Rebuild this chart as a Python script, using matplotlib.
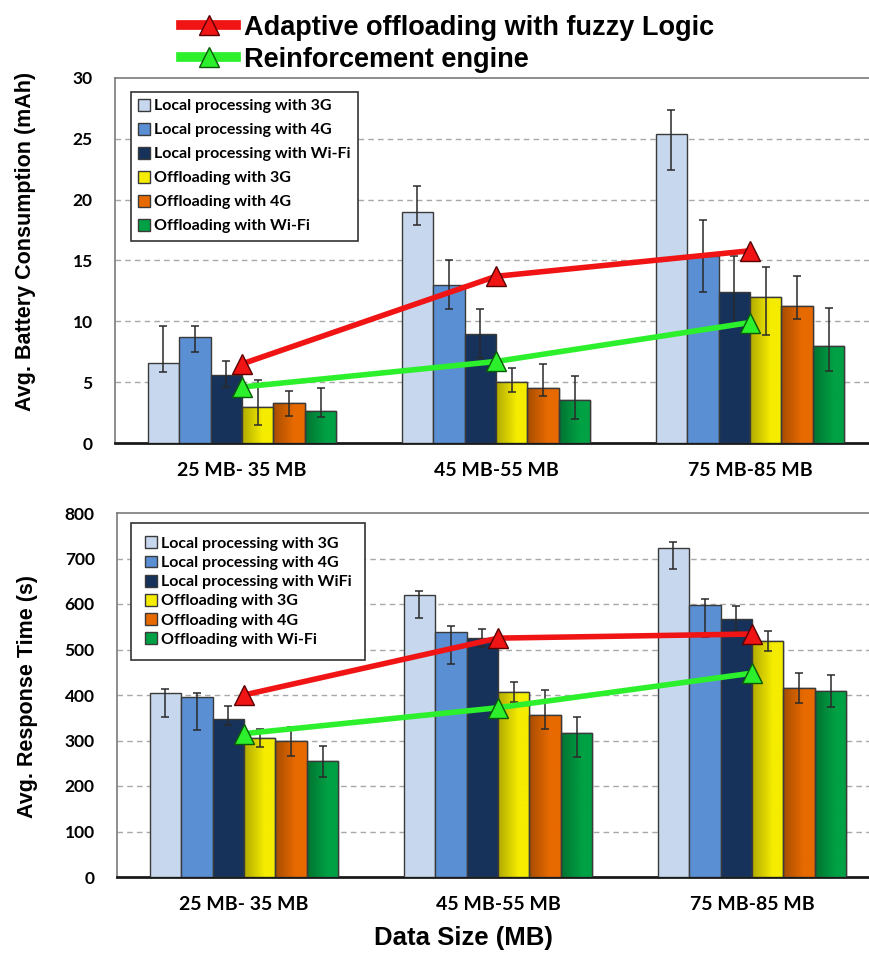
import numpy as np
import matplotlib
matplotlib.use("Agg")
import matplotlib.pyplot as plt
from matplotlib.patches import Patch
from matplotlib.lines import Line2D
from matplotlib.colors import to_rgb

groups = ["25 MB- 35 MB", "45 MB-55 MB", "75 MB-85 MB"]
series_top = ["Local processing with 3G", "Local processing with 4G", "Local processing with Wi-Fi",
              "Offloading with 3G", "Offloading with 4G", "Offloading with Wi-Fi"]
series_bot = ["Local processing with 3G", "Local processing with 4G", "Local processing with WiFi",
              "Offloading with 3G", "Offloading with 4G", "Offloading with Wi-Fi"]

# Battery consumption (mAh): value, lower bound, upper bound of error bar
batt_val = [[6.6, 19.0, 25.4], [8.7, 13.0, 15.4], [5.6, 9.0, 12.4],
            [3.0, 5.0, 12.0], [3.3, 4.5, 11.3], [2.6, 3.5, 8.0]]
batt_lo = [[5.8, 17.9, 22.4], [7.5, 11.0, 12.4], [4.6, 7.0, 9.5],
           [1.5, 4.2, 8.9], [2.2, 3.9, 10.2], [2.1, 2.0, 5.9]]
batt_hi = [[9.6, 21.1, 27.4], [9.6, 15.0, 18.3], [6.7, 11.0, 15.4],
           [5.2, 6.2, 14.5], [4.3, 6.5, 13.7], [4.5, 5.5, 11.1]]
fuzzy_batt = [6.5, 13.7, 15.8]
rl_batt = [4.6, 6.7, 9.9]

# Response time (s)
resp_val = [[405, 619, 724], [396, 538, 597], [348, 525, 567],
            [306, 407, 519], [298, 357, 416], [254, 317, 409]]
resp_lo = [[352, 569, 678], [324, 468, 527], [335, 505, 540],
           [285, 385, 497], [265, 326, 383], [219, 263, 374]]
resp_hi = [[413, 628, 737], [405, 551, 611], [376, 545, 595],
           [326, 429, 540], [330, 411, 449], [287, 352, 444]]
fuzzy_resp = [400, 525, 534]
rl_resp = [315, 372, 448]

colors = ["#c6d7ee", "#5a8fd4", "#17325a", "#f5ec00", "#e76a00", "#00a044"]
gradient = [False, False, False, True, True, True]
red = "#f01414"
lime = "#2cf02c"

FONT = "Liberation Sans"
LEGFONT = "Lato"

fig = plt.figure(figsize=(8.7, 9.55), dpi=100)
W, H = 870, 955

def ax_rect(x0, y0, x1, y1):
    return [x0 / W, 1 - y1 / H, (x1 - x0) / W, (y1 - y0) / H]

ax1 = fig.add_axes(ax_rect(115, 78, 877, 443))
ax2 = fig.add_axes(ax_rect(117, 513, 879, 877))

bw = 0.124
x = np.arange(len(groups))

def draw(ax, vals, los, his, fz, rl, ymax, ystep, ylabel, ylab_y, labels, leg_anchor, lspace, bpad):
    handles = []
    for i in range(6):
        pos = x + (i - 2.5) * bw
        v = np.array(vals[i], float)
        yerr = [v - np.array(los[i]), np.array(his[i]) - v]
        bars = ax.bar(pos, v, bw, color=colors[i], edgecolor="#3a3a3a", linewidth=1.0, zorder=3)
        if gradient[i]:
            c = np.array(to_rgb(colors[i]))
            t = np.linspace(0, 1, 64)
            f = np.clip(0.72 + 0.28 * t / 0.65, 0, 1)
            img = (c[None, :] * f[:, None])[None, :, :]
            for b in bars:
                bx, by = b.get_x(), b.get_y()
                im = ax.imshow(img, extent=[bx, bx + b.get_width(), by, by + b.get_height()],
                               aspect="auto", zorder=3.1, origin="lower")
                im.set_clip_path(b)
            for b in bars:
                ax.add_patch(plt.Rectangle((b.get_x(), b.get_y()), b.get_width(), b.get_height(),
                                           fill=False, edgecolor="#3a3a3a", linewidth=1.0, zorder=3.2))
        ax.errorbar(pos, v, yerr=yerr, fmt="none", ecolor="#2a2a2a", elinewidth=1.1,
                    capsize=3, capthick=1.1, zorder=4)
        handles.append(Patch(facecolor=colors[i], edgecolor="#3a3a3a", linewidth=1.0, label=labels[i]))
    ax.plot(x, fz, color=red, linewidth=4, marker="^", markersize=14,
            markerfacecolor=red, markeredgecolor="#5a0000", markeredgewidth=1.0, zorder=6)
    ax.plot(x, rl, color=lime, linewidth=4, marker="^", markersize=14,
            markerfacecolor=lime, markeredgecolor="#0a5a0a", markeredgewidth=1.0, zorder=5)
    ax.set_xlim(-0.5, 2.5)
    ax.set_ylim(0, ymax)
    ticks = np.arange(0, ymax + 1e-9, ystep)
    ax.set_yticks(ticks)
    ax.set_yticklabels([f"{t:g}" for t in ticks], fontfamily=LEGFONT, fontweight="bold", fontsize=12.5)
    ax.set_xticks(x)
    ax.set_xticklabels(groups, fontfamily=LEGFONT, fontweight="bold", fontsize=14)
    ax.tick_params(axis="y", length=0, pad=16)
    ax.tick_params(axis="x", length=0, pad=14)
    for t in ticks[1:-1]:
        ax.axhline(t, color="#a8a8a8", linestyle=(0, (4, 3)), linewidth=1.0, zorder=1)
    ax.set_ylabel(ylabel, fontfamily=FONT, fontweight="bold", fontsize=15.5, va="center")
    ax.yaxis.set_label_coords(-0.118, ylab_y)
    ax.spines["right"].set_visible(False)
    ax.spines["top"].set_color("#7a7a7a")
    ax.spines["left"].set_color("#7a7a7a")
    ax.spines["bottom"].set_color("#1a1a1a")
    ax.spines["bottom"].set_linewidth(2.0)
    ax.spines["top"].set_linewidth(1.2)
    ax.spines["left"].set_linewidth(1.2)
    leg = ax.legend(handles=handles, loc="upper left", bbox_to_anchor=leg_anchor,
                    prop={"family": LEGFONT, "weight": "bold", "size": 11.5},
                    frameon=True, fancybox=False, edgecolor="#333333", framealpha=1,
                    handlelength=0.75, handleheight=0.75, handletextpad=0.25,
                    labelspacing=lspace, borderpad=bpad, borderaxespad=0)
    leg.get_frame().set_linewidth(1.2)
    leg.set_zorder(10)

draw(ax1, batt_val, batt_lo, batt_hi, fuzzy_batt, rl_batt, 30, 5,
     "Avg. Battery Consumption (mAh)", 0.553, series_top, (0.021, 0.962), 0.6, 0.45)
draw(ax2, resp_val, resp_lo, resp_hi, fuzzy_resp, rl_resp, 800, 100,
     "Avg. Response Time (s)", 0.495, series_bot, (0.019, 0.973), 0.3, 0.85)
ax2.set_xlabel("Data Size (MB)", fontfamily=FONT, fontweight="bold", fontsize=18.5, va="center")
ax2.xaxis.set_label_coords(0.454, -0.168)

line_handles = [
    Line2D([0], [0], color=red, linewidth=7, marker="^", markersize=15,
           markerfacecolor=red, markeredgecolor="#5a0000", label="Adaptive offloading with fuzzy Logic"),
    Line2D([0], [0], color=lime, linewidth=7, marker="^", markersize=15,
           markerfacecolor=lime, markeredgecolor="#0a5a0a", label="Reinforcement engine"),
]
fig.legend(handles=line_handles, loc="upper left", bbox_to_anchor=(162 / W, 1 + 4 / H),
           prop={"family": FONT, "weight": "bold", "size": 19.5}, frameon=False,
           handlelength=2.05, handletextpad=0.27, labelspacing=0.22, borderpad=0.2)

fig.savefig("out.png", dpi=100, facecolor="white")
